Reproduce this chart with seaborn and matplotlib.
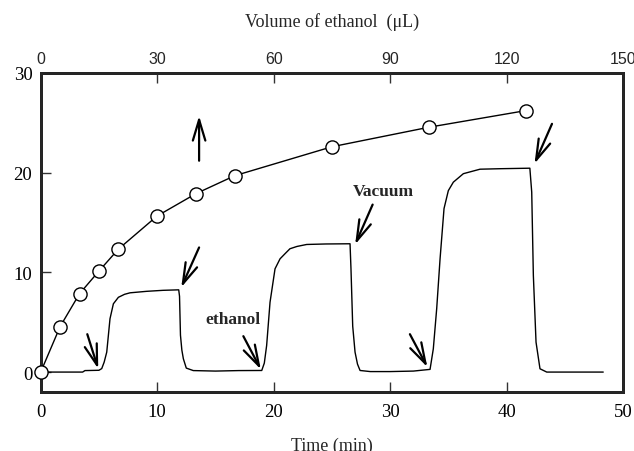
import matplotlib
matplotlib.use('Agg')
import matplotlib.pyplot as plt
import seaborn as sns

# sensor response trace (time in min, signal)
time_min = [0, 3.6, 3.8, 5.0, 5.24, 5.45, 5.67, 5.95, 6.24, 6.67, 7.2, 7.67, 9.1, 10.5,
            11.85, 11.92, 12.0, 12.12, 12.25, 12.5, 13.1, 15.0, 17.0, 18.98, 19.2, 19.4,
            19.69, 20.12, 20.55, 21.0, 21.4, 22.0, 22.84, 24.5, 26.56, 26.64, 26.79, 26.99,
            27.2, 27.42, 28.3, 30.0, 32.0, 33.43, 33.71, 34.0, 34.29, 34.63, 35.0, 35.43,
            36.29, 37.72, 39.5, 42.0, 42.16, 42.3, 42.53, 42.87, 43.45, 45.0, 48.3]
signal = [0, 0.0, 0.15, 0.18, 0.35, 1.0, 2.0, 5.35, 6.85, 7.5, 7.8, 7.95, 8.1, 8.2,
          8.25, 7.6, 3.7, 2.2, 1.33, 0.4, 0.15, 0.1, 0.15, 0.16, 0.9, 2.67,
          7.0, 10.36, 11.36, 11.9, 12.37, 12.6, 12.8, 12.85, 12.87, 10.4, 4.6, 2.0,
          0.8, 0.16, 0.05, 0.05, 0.1, 0.27, 2.33, 6.35, 11.36, 16.4, 18.2, 19.05,
          19.9, 20.35, 20.4, 20.45, 18.05, 9.7, 3.0, 0.33, 0.0, 0.0, 0.0]

# response vs injected ethanol volume (uL)
volume = [0, 5, 10, 15, 20, 30, 40, 50, 75, 100, 125]
response = [0, 4.56, 7.86, 10.13, 12.33, 15.66, 17.9, 19.7, 22.6, 24.56, 26.23]

time_ticks = [0, 10, 20, 30, 40, 50]
volume_ticks = [0, 30, 60, 90, 120, 150]
y_ticks = [0, 10, 20, 30]

sns.set_style('ticks')
plt.rcParams['font.family'] = ['Liberation Serif', 'DejaVu Serif']

fig = plt.figure(figsize=(6.34, 4.52), dpi=100)
ax = fig.add_axes([0.0642, 0.1305, 0.9185, 0.7058])

sns.lineplot(x=time_min, y=signal, ax=ax, color='black', lw=1.0,
             sort=False, estimator=None)
ax.set_xlim(0, 50)
ax.set_ylim(-2, 30)
ax.set_xticks(time_ticks)
ax.set_yticks(y_ticks)
ax.tick_params(axis='both', direction='in', length=7, width=1, labelsize=13.5,
               color='#333333', labelcolor='black')
ax.tick_params(axis='x', pad=8)
ax.tick_params(axis='y', pad=6)
ax.set_xlabel('Time (min)', fontsize=13, labelpad=12)
ax.set_ylabel('')
for s in ax.spines.values():
    s.set_linewidth(2)
    s.set_color('black')
    s.set_visible(True)

ax2 = ax.twiny()
sns.lineplot(x=volume, y=response, ax=ax2, color='black', lw=1.0, marker='o',
             markersize=9.5, markerfacecolor='white', markeredgecolor='black',
             markeredgewidth=1.0, sort=False, estimator=None, clip_on=False, zorder=5)
ax2.set_xlim(0, 150)
ax2.set_xticks(volume_ticks)
ax2.set_xticklabels([str(v) for v in volume_ticks], family='Liberation Sans', fontsize=11.5)
ax2.tick_params(axis='x', direction='in', length=7, width=1, pad=5, color='#333333')
ax2.set_xlabel('Volume of ethanol  (\u03bcL)', fontsize=13, labelpad=18)
for s in ax2.spines.values():
    s.set_linewidth(2)

def arrow(x0, y0, x1, y1):
    ax.annotate('', xy=(x1, y1), xytext=(x0, y0),
                arrowprops=dict(arrowstyle='->, head_length=1.5, head_width=0.45',
                                lw=1.6, color='black', shrinkA=0, shrinkB=0))

arrow(13.6, 21.2, 13.6, 25.7)
arrow(13.6, 12.5, 12.07, 8.5)
arrow(4.0, 3.8, 4.94, 0.33)
arrow(17.4, 3.6, 18.9, 0.27)
arrow(28.5, 16.8, 27.0, 12.8)
arrow(31.7, 3.8, 33.2, 0.5)
arrow(43.9, 24.9, 42.4, 20.9)

ax.text(16.5, 5.3, 'ethanol', fontsize=12.5, fontweight='bold', ha='center', va='center')
ax.text(29.4, 18.2, 'Vacuum', fontsize=12.5, fontweight='bold', ha='center', va='center')

fig.savefig('out.png', dpi=100)
